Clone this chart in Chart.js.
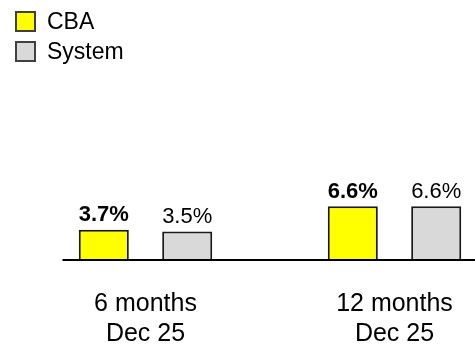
<!DOCTYPE html>
<html>
<head>
<meta charset="utf-8">
<script src="https://cdn.jsdelivr.net/npm/chart.js@4"></script>
<style>
  html, body { margin: 0; padding: 0; background: #fff; overflow: hidden; }
  #chart { display: block; }
</style>
</head>
<body>
<canvas id="chart" width="540" height="344"></canvas>
<script>
const categories = [["6 months", "Dec 25"], ["12 months", "Dec 25"]];
const seriesNames = ["CBA", "System"];
const cbaValues = [3.7, 6.6];
const systemValues = [3.5, 6.6];

const FONT = "'Liberation Sans', Arial, sans-serif";

// value labels above each bar (bold for CBA)
const barLabels = {
  id: "barLabels",
  afterDatasetsDraw(chart) {
    const ctx = chart.ctx;
    ctx.save();
    ctx.fillStyle = "#000";
    ctx.textAlign = "center";
    ctx.textBaseline = "alphabetic";
    chart.data.datasets.forEach((ds, i) => {
      ctx.font = (i === 0 ? "bold " : "") + "22px " + FONT;
      chart.getDatasetMeta(i).data.forEach((bar, j) => {
        ctx.fillText(ds.data[j].toFixed(1) + "%", bar.x, bar.y - 8.5);
      });
    });
    ctx.restore();
  }
};

// baseline starting at the left edge of the first group
const baseLine = {
  id: "baseLine",
  afterDatasetsDraw(chart) {
    const x = chart.scales.x, y = chart.scales.y;
    const x0 = x.getPixelForValue(0);
    const step = x.getPixelForValue(1) - x0;
    const yy = y.getPixelForValue(0);
    const ctx = chart.ctx;
    ctx.save();
    ctx.strokeStyle = "#000";
    ctx.lineWidth = 2;
    ctx.beginPath();
    ctx.moveTo(x0 - step / 3, yy);
    ctx.lineTo(chart.chartArea.right, yy);
    ctx.stroke();
    ctx.restore();
  }
};

// stacked legend, top left
const sideLegend = {
  id: "sideLegend",
  afterDraw(chart) {
    const ctx = chart.ctx;
    ctx.save();
    ctx.font = "23px " + FONT;
    ctx.textBaseline = "middle";
    chart.data.datasets.forEach((ds, i) => {
      const top = 12 + i * 30;
      ctx.fillStyle = ds.backgroundColor;
      ctx.fillRect(16, top, 19, 19);
      ctx.strokeStyle = "#404040";
      ctx.lineWidth = 2;
      ctx.strokeRect(16, top, 19, 19);
      ctx.fillStyle = "#000";
      ctx.fillText(ds.label, 47, top + 10.5);
    });
    ctx.restore();
  }
};

new Chart(document.getElementById("chart"), {
  type: "bar",
  data: {
    labels: categories,
    datasets: [
      {
        label: seriesNames[0],
        data: cbaValues,
        backgroundColor: "#ffff00",
        borderColor: "#1a1a1a",
        borderWidth: 2,
      },
      {
        label: seriesNames[1],
        data: systemValues,
        backgroundColor: "#d9d9d9",
        borderColor: "#1a1a1a",
        borderWidth: 2,
      },
    ],
  },
  options: {
    responsive: false,
    animation: false,
    events: [],
    categoryPercentage: 0.67,
    barPercentage: 0.6,
    layout: { padding: { left: 21, right: 21, top: 178.5, bottom: 0 } },
    plugins: {
      legend: { display: false },
      tooltip: { enabled: false },
    },
    scales: {
      x: {
        grid: { display: false },
        border: { display: false },
        ticks: {
          color: "#000",
          font: { family: FONT, size: 25, lineHeight: 1.2 },
          maxRotation: 0,
          autoSkip: false,
          padding: 21,
        },
        afterFit(scale) { scale.height = 84; },
      },
      y: {
        display: false,
        min: 0,
        max: 10,
      },
    },
  },
  plugins: [barLabels, baseLine, sideLegend],
});
</script>
</body>
</html>
